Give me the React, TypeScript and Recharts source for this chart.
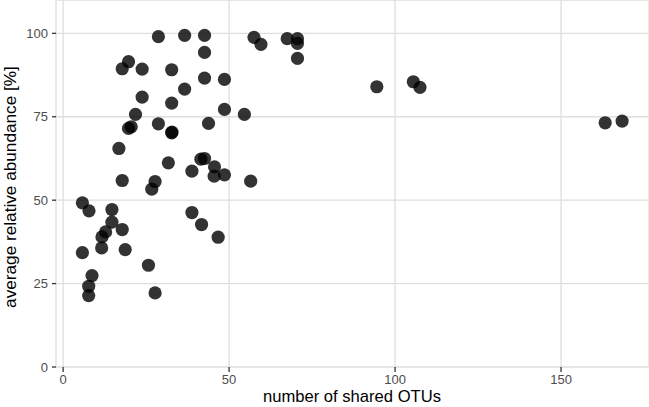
import React from 'react';
import { ScatterChart, Scatter, XAxis, YAxis, CartesianGrid } from 'recharts';

// shared OTU count per sample pair
const sharedOtus = [
  28.7, 36.6, 42.6, 42.6, 19.7, 17.8, 23.8, 32.7, 42.6, 48.6,
  36.6, 23.8, 32.7, 48.6, 54.6, 21.8, 20.5, 19.7, 28.7, 32.7,
  32.8, 43.8, 16.8, 57.5, 59.6, 67.5, 70.6, 70.6, 70.6, 94.5,
  105.5, 107.5, 163.3, 168.4, 31.7, 41.5, 42.6, 45.6, 38.8, 45.5,
  48.6, 56.5, 17.8, 27.7, 26.7, 5.8, 7.8, 14.7, 14.7, 17.8,
  12.8, 11.7, 11.6, 18.7, 5.8, 38.8, 41.7, 46.7, 25.7, 8.7,
  7.7, 7.7, 27.7,
];

// mean relative abundance in percent
const abundance = [
  99.0, 99.4, 99.4, 94.3, 91.5, 89.4, 89.3, 89.1, 86.6, 86.2,
  83.3, 80.9, 79.1, 77.2, 75.7, 75.7, 72.0, 71.5, 72.9, 70.2,
  70.4, 73.0, 65.5, 98.8, 96.7, 98.4, 98.4, 97.0, 92.5, 84.0,
  85.5, 83.8, 73.2, 73.7, 61.2, 62.3, 62.5, 60.0, 58.7, 57.2,
  57.6, 55.7, 55.9, 55.6, 53.3, 49.2, 46.8, 47.2, 43.4, 41.2,
  40.5, 39.0, 35.7, 35.2, 34.3, 46.3, 42.7, 38.9, 30.5, 27.4,
  24.2, 21.4, 22.2,
];

const xTicks = [0, 50, 100, 150];
const yTicks = [0, 25, 50, 75, 100];

const data = sharedOtus.map((x, i) => ({ x, y: abundance[i] }));

const font = '"Liberation Sans", Arial, sans-serif';
const tickStyle = { fill: '#4d4d4d', fontSize: 13, fontFamily: font };

const Dot = (props: any) => (
  <circle cx={props.cx} cy={props.cy} r={6.6} fill="#000" fillOpacity={0.8} />
);

export default function App() {
  return (
    <div style={{ position: 'absolute', left: 0, top: 0, width: 649, height: 407, background: '#fff', overflow: 'hidden' }}>
      <ScatterChart width={649} height={407} margin={{ top: 0, right: 0, bottom: 0, left: 0 }}>
        <CartesianGrid stroke="#dedede" strokeWidth={1.3} />
        <XAxis
          type="number"
          dataKey="x"
          domain={[-2.15, 176.5]}
          ticks={xTicks}
          height={40}
          axisLine={false}
          tickLine={{ stroke: '#333', strokeWidth: 1.3 }}
          tickSize={5}
          tickMargin={3}
          tick={tickStyle}
        />
        <YAxis
          type="number"
          dataKey="y"
          domain={[0, 110]}
          ticks={yTicks}
          width={56}
          axisLine={false}
          tickLine={{ stroke: '#333', strokeWidth: 1.3 }}
          tickSize={4}
          tickMargin={4}
          tick={tickStyle}
        />
        <Scatter data={data} shape={Dot} isAnimationActive={false} />
      </ScatterChart>
      <div
        style={{
          position: 'absolute',
          left: 352,
          top: 388,
          lineHeight: '17px',
          transform: 'translateX(-50%)',
          whiteSpace: 'nowrap',
          fontFamily: font,
          fontSize: 16.6,
          color: '#000',
        }}
      >
        number of shared OTUs
      </div>
      <div
        style={{
          position: 'absolute',
          left: 10,
          top: 186.5,
          lineHeight: '17px',
          transform: 'translate(-50%, -50%) rotate(-90deg)',
          whiteSpace: 'nowrap',
          fontFamily: font,
          fontSize: 17.2,
          color: '#000',
        }}
      >
        average relative abundance [%]
      </div>
    </div>
  );
}
